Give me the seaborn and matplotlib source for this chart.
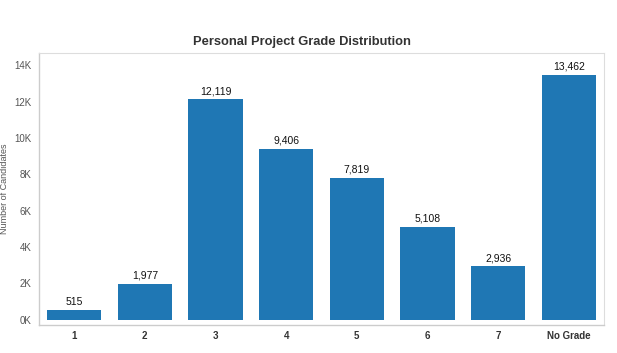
import matplotlib
matplotlib.use("Agg")
import matplotlib.pyplot as plt
import numpy as np
import pandas as pd
import seaborn as sns

# data
grades = ["1", "2", "3", "4", "5", "6", "7", "No Grade"]
candidates = [515, 1977, 12119, 9406, 7819, 5108, 2936, 13462]

sns.set_style("white")
plt.rcParams["font.family"] = ["Liberation Sans", "DejaVu Sans"]

df = pd.DataFrame({"grade": grades, "n": candidates})

fig = plt.figure(figsize=(6.17, 3.53), dpi=100)
ax = fig.add_axes([0.063, 0.079, 0.916, 0.772])

sns.barplot(data=df, x="grade", y="n", color="#1f77b4", saturation=1,
            width=0.77, ax=ax, edgecolor="none")

for i, v in enumerate(candidates):
    ax.text(i, v + 180, f"{v:,}", ha="center", va="bottom", fontsize=7.5, color="#111111")

ax.set_ylim(-300, 14700)
ax.set_xlim(-0.5, len(grades) - 0.5)
yt = np.arange(0, 14001, 2000)
ax.set_yticks(yt)
ax.set_yticklabels([f"{int(t/1000)}K" for t in yt], fontsize=7, color="#555555")
ax.set_xticklabels(grades, fontsize=7, fontweight="bold", color="#333333")
ax.set_xticks(np.arange(-0.5, len(grades)), minor=True)
ax.tick_params(axis="x", which="major", length=0, pad=4)
ax.tick_params(axis="x", which="minor", length=3, color="#cccccc")
ax.tick_params(axis="y", length=3, color="#bbbbbb", pad=2)

ax.set_xlabel("")
ax.set_ylabel("Number of Candidates", fontsize=6.5, color="#555555", labelpad=1)
ax.yaxis.set_label_coords(-0.052, 0.5)

for s in ["top", "right"]:
    ax.spines[s].set_color("#dddddd")
    ax.spines[s].set_linewidth(0.8)
for s in ["left", "bottom"]:
    ax.spines[s].set_color("#cccccc")
    ax.spines[s].set_linewidth(1)

fig.text(0.49, 0.88, "Personal Project Grade Distribution", ha="center", va="center",
         fontsize=9.3, fontweight="bold", color="#333333")

fig.savefig("out.png", dpi=100)
